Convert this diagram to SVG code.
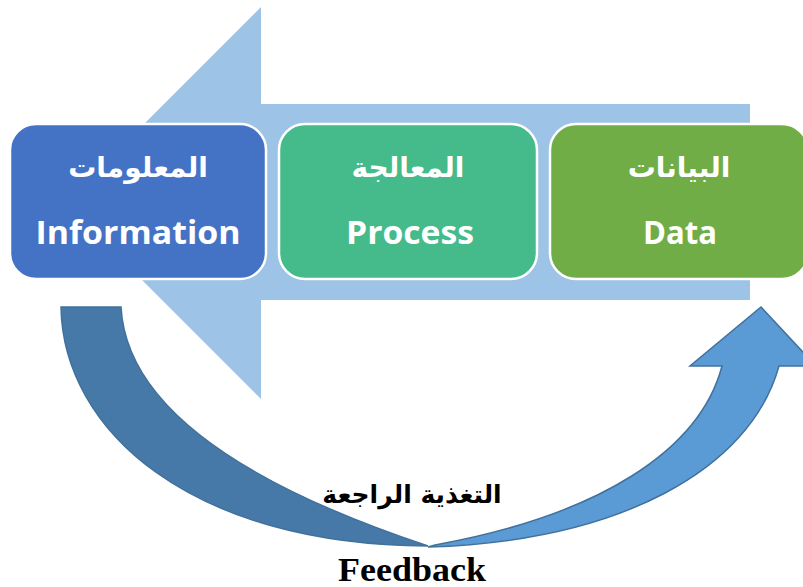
<svg xmlns="http://www.w3.org/2000/svg" width="803" height="587" viewBox="0 0 803 587">
<style>
.box{stroke:#fff;stroke-width:2.5}
.ar{font-family:"DejaVu Sans",sans-serif;font-weight:bold;fill:#fff;text-anchor:middle;font-size:28px}
.en{font-family:"Open Sans","Liberation Sans",sans-serif;font-weight:bold;fill:#fff;text-anchor:middle;font-size:32px}
.fb{font-family:"DejaVu Sans",sans-serif;font-weight:bold;fill:#000;text-anchor:middle}
</style>
<rect width="803" height="587" fill="#fff"/>
<g id="connectors">
<path id="main-arrow" d="M750,104 L261,104 L261,7 L65,203 L261,399 L261,300 L750,300 Z" fill="#9DC3E6"/>
<path id="feedback-up" d="M428,547 C620,541 750,470 779,366 L816,366 L761,307 L690,366 L722,366 C700,450 600,515 435,545 Z" fill="#5B9BD5" stroke="#41719C" stroke-width="1.5"/>
<path id="feedback-back" d="M61,307 L121,307 C126,400 230,480 428,546 C190,545 63,430 61,307 Z" fill="#4779A8" stroke="#41719C" stroke-width="1.5"/>
</g>
<g id="information">
<rect class="box" x="10" y="124" width="256" height="155" rx="26" fill="#4472C4"/>
<text class="ar" x="138" y="177">المعلومات</text>
<text class="en" x="138" y="244" textLength="205" lengthAdjust="spacingAndGlyphs">Information</text>
</g>
<g id="process">
<rect class="box" x="279" y="124" width="258" height="155" rx="26" fill="#45BA8B"/>
<text class="ar" x="408" y="177">المعالجة</text>
<text class="en" x="410" y="244" textLength="128" lengthAdjust="spacingAndGlyphs">Process</text>
</g>
<g id="data">
<rect class="box" x="550" y="124" width="258" height="155" rx="26" fill="#70AD47"/>
<text class="ar" x="679" y="177">البيانات</text>
<text class="en" x="680" y="244" textLength="74" lengthAdjust="spacingAndGlyphs">Data</text>
</g>
<g id="feedback-label">
<text class="fb" x="412" y="503" font-size="25">التغذية الراجعة</text>
<text x="412" y="581" font-family="Liberation Serif,serif" font-weight="bold" font-size="33" text-anchor="middle" textLength="148" lengthAdjust="spacingAndGlyphs">Feedback</text>
</g>
</svg>
